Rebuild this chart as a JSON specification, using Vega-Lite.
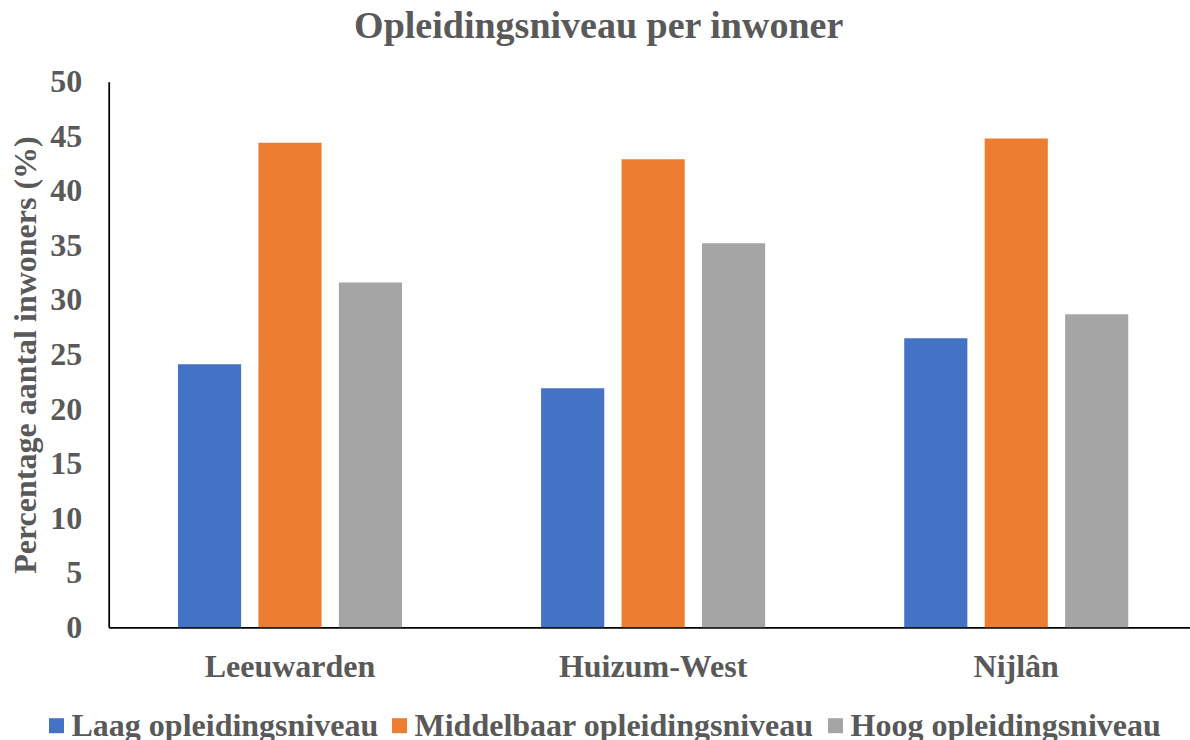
{
  "$schema": "https://vega.github.io/schema/vega-lite/v6.json",
  "width": 1081,
  "height": 545.6,
  "autosize": {"type": "none"},
  "padding": {"left": 108.7, "top": 81.7, "right": 0.3, "bottom": 112.7},
  "background": "white",
  "title": {
    "text": "Opleidingsniveau per inwoner",
    "frame": "group",
    "anchor": "middle",
    "dx": -50.5,
    "font": "Liberation Serif",
    "fontSize": 38,
    "fontWeight": "bold",
    "color": "#595959",
    "offset": 20
  },
  "data": {
    "values": [
      {"wijk": "Leeuwarden", "niveau": "Laag opleidingsniveau", "percentage": 24.1},
      {"wijk": "Leeuwarden", "niveau": "Middelbaar opleidingsniveau", "percentage": 44.4},
      {"wijk": "Leeuwarden", "niveau": "Hoog opleidingsniveau", "percentage": 31.6},
      {"wijk": "Huizum-West", "niveau": "Laag opleidingsniveau", "percentage": 21.9},
      {"wijk": "Huizum-West", "niveau": "Middelbaar opleidingsniveau", "percentage": 42.9},
      {"wijk": "Huizum-West", "niveau": "Hoog opleidingsniveau", "percentage": 35.2},
      {"wijk": "Nijlân", "niveau": "Laag opleidingsniveau", "percentage": 26.5},
      {"wijk": "Nijlân", "niveau": "Middelbaar opleidingsniveau", "percentage": 44.8},
      {"wijk": "Nijlân", "niveau": "Hoog opleidingsniveau", "percentage": 28.7}
    ]
  },
  "mark": {"type": "bar"},
  "encoding": {
    "x": {
      "field": "wijk",
      "type": "nominal",
      "sort": ["Leeuwarden", "Huizum-West", "Nijlân"],
      "scale": {"paddingInner": 0.383, "paddingOuter": 0.18, "align": 0.53},
      "axis": {
        "title": null,
        "labelAngle": 0,
        "ticks": false,
        "grid": false,
        "domainColor": "#000000",
        "domainWidth": 1.75,
        "labelFont": "Liberation Serif",
        "labelFontSize": 32,
        "labelFontWeight": "bold",
        "labelColor": "#595959",
        "labelPadding": 24,
        "labelLimit": 1000
      }
    },
    "xOffset": {
      "field": "niveau",
      "type": "nominal",
      "sort": ["Laag opleidingsniveau", "Middelbaar opleidingsniveau", "Hoog opleidingsniveau"],
      "scale": {"paddingInner": 0.215, "paddingOuter": 0}
    },
    "y": {
      "field": "percentage",
      "type": "quantitative",
      "scale": {"domain": [0, 50], "nice": false},
      "axis": {
        "title": "Percentage aantal inwoners (%)",
        "values": [0, 5, 10, 15, 20, 25, 30, 35, 40, 45, 50],
        "ticks": false,
        "grid": false,
        "domainColor": "#000000",
        "domainWidth": 1.75,
        "labelFont": "Liberation Serif",
        "labelFontSize": 32,
        "labelFontWeight": "bold",
        "labelColor": "#595959",
        "labelPadding": 27,
        "titleFont": "Liberation Serif",
        "titleFontSize": 32,
        "titleFontWeight": "bold",
        "titleColor": "#595959",
        "titlePadding": 7
      }
    },
    "color": {
      "field": "niveau",
      "type": "nominal",
      "sort": ["Laag opleidingsniveau", "Middelbaar opleidingsniveau", "Hoog opleidingsniveau"],
      "scale": {
        "domain": ["Laag opleidingsniveau", "Middelbaar opleidingsniveau", "Hoog opleidingsniveau"],
        "range": ["#4472C4", "#ED7D31", "#A5A5A5"]
      },
      "legend": {
        "title": null,
        "orient": "none",
        "legendX": -68.2,
        "legendY": 628,
        "direction": "horizontal",
        "columns": 3,
        "columnPadding": 5,
        "padding": 0,
        "symbolType": "square",
        "symbolSize": 225,
        "symbolStrokeWidth": 0,
        "labelOffset": -1,
        "labelFont": "Liberation Serif",
        "labelFontSize": 32,
        "labelFontWeight": "bold",
        "labelColor": "#595959",
        "labelLimit": 1000
      }
    }
  },
  "config": {
    "view": {"stroke": null},
    "font": "Liberation Serif"
  }
}
